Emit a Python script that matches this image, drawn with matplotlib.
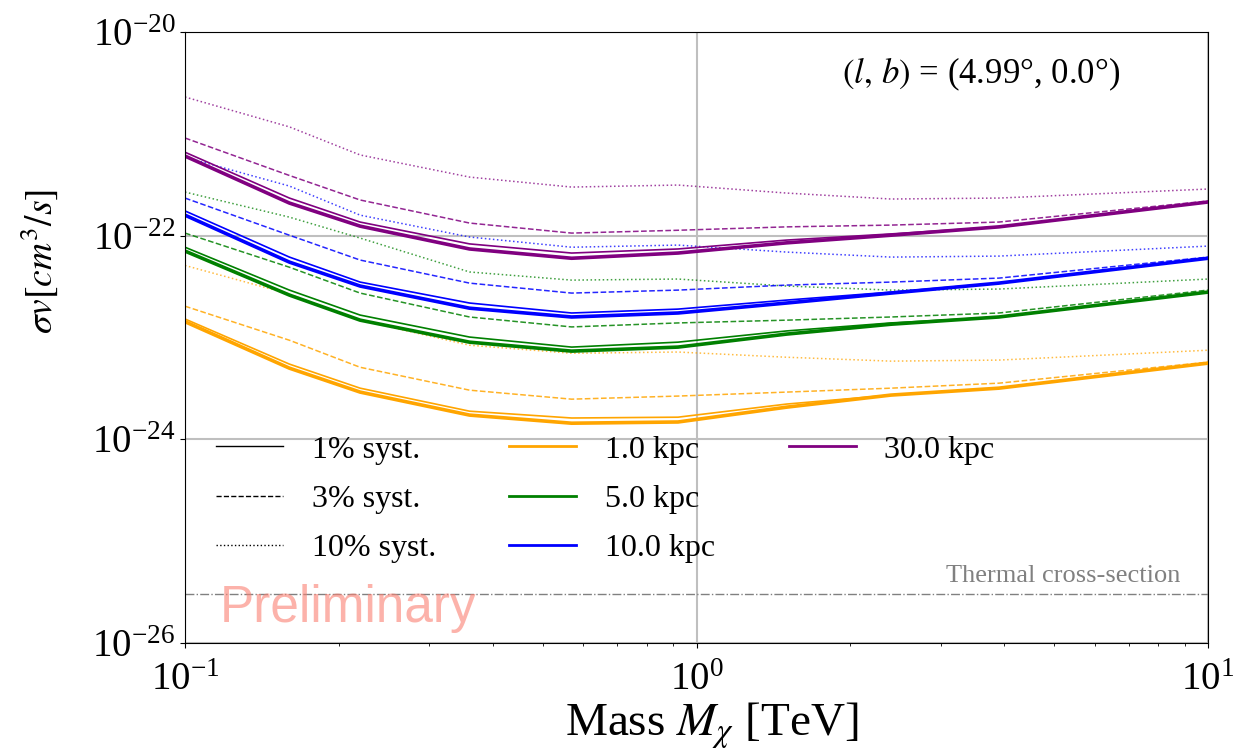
import matplotlib
matplotlib.use("Agg")
import matplotlib.pyplot as plt
from matplotlib.lines import Line2D
from matplotlib.ticker import NullLocator

plt.rcParams['font.family'] = ['Liberation Serif', 'DejaVu Serif']
plt.rcParams['mathtext.fontset'] = 'stix'

# dark matter mass [TeV]
mass = [0.1, 0.16, 0.22, 0.36, 0.57, 0.92, 1.5, 2.4, 3.9, 10]

# upper limits on <sigma v> [cm^3/s]; "stat" is the thick line, then 1%, 3%, 10% systematics
d1_stat = [1.43e-23, 5.0e-24, 2.91e-24, 1.73e-24, 1.44e-24, 1.48e-24, 2.07e-24, 2.72e-24, 3.18e-24, 5.6e-24]
d1_sys1 = [1.52e-23, 5.48e-24, 3.18e-24, 1.89e-24, 1.62e-24, 1.65e-24, 2.22e-24, 2.72e-24, 3.18e-24, 5.6e-24]
d1_sys3 = [2.03e-23, 9.4e-24, 5.1e-24, 3.04e-24, 2.48e-24, 2.66e-24, 2.91e-24, 3.18e-24, 3.56e-24, 5.73e-24]
d1_sys10 = [5.1e-23, 2.67e-23, 1.48e-23, 8.4e-24, 7.0e-24, 7.2e-24, 6.4e-24, 5.86e-24, 6.0e-24, 7.5e-24]

d5_stat = [7.06e-23, 2.61e-23, 1.48e-23, 9.0e-24, 7.35e-24, 8.05e-24, 1.08e-23, 1.35e-23, 1.59e-23, 2.79e-23]
d5_sys1 = [7.7e-23, 2.92e-23, 1.66e-23, 1.01e-23, 8.05e-24, 9.0e-24, 1.16e-23, 1.39e-23, 1.59e-23, 2.79e-23]
d5_sys3 = [1.06e-22, 4.9e-23, 2.73e-23, 1.59e-23, 1.27e-23, 1.39e-23, 1.48e-23, 1.59e-23, 1.74e-23, 2.92e-23]
d5_sys10 = [2.68e-22, 1.52e-22, 9.47e-23, 4.4e-23, 3.66e-23, 3.75e-23, 3.2e-23, 2.92e-23, 2.99e-23, 3.75e-23]

d10_stat = [1.59e-22, 5.5e-23, 3.2e-23, 1.94e-23, 1.59e-23, 1.74e-23, 2.18e-23, 2.73e-23, 3.42e-23, 6.0e-23]
d10_sys1 = [1.75e-22, 6.16e-23, 3.5e-23, 2.18e-23, 1.74e-23, 1.9e-23, 2.33e-23, 2.79e-23, 3.42e-23, 6.0e-23]
d10_sys3 = [2.34e-22, 1.01e-22, 5.76e-23, 3.42e-23, 2.73e-23, 2.92e-23, 3.27e-23, 3.5e-23, 3.83e-23, 6.16e-23]
d10_sys10 = [5.9e-22, 3.07e-22, 1.59e-22, 9.7e-23, 7.7e-23, 8.08e-23, 6.9e-23, 6.16e-23, 6.3e-23, 7.9e-23]

d30_stat = [6.05e-22, 2.09e-22, 1.24e-22, 7.4e-23, 6.0e-23, 6.75e-23, 8.5e-23, 1.01e-22, 1.22e-22, 2.14e-22]
d30_sys1 = [6.6e-22, 2.34e-22, 1.36e-22, 8.3e-23, 6.75e-23, 7.4e-23, 9.05e-23, 1.04e-22, 1.22e-22, 2.14e-22]
d30_sys3 = [9.1e-22, 3.9e-22, 2.24e-22, 1.33e-22, 1.06e-22, 1.13e-22, 1.22e-22, 1.27e-22, 1.36e-22, 2.19e-22]
d30_sys10 = [2.3e-21, 1.17e-21, 6.2e-22, 3.76e-22, 3.0e-22, 3.14e-22, 2.62e-22, 2.29e-22, 2.34e-22, 2.87e-22]

distances = ['1.0 kpc', '5.0 kpc', '10.0 kpc', '30.0 kpc']
colors = ['orange', 'green', 'blue', 'purple']
limits = [
    (d1_stat, d1_sys1, d1_sys3, d1_sys10),
    (d5_stat, d5_sys1, d5_sys3, d5_sys10),
    (d10_stat, d10_sys1, d10_sys3, d10_sys10),
    (d30_stat, d30_sys1, d30_sys3, d30_sys10),
]
syst_labels = ['1% syst.', '3% syst.', '10% syst.']
thermal_xs = 3e-26

fig = plt.figure(figsize=(12.39, 7.51), dpi=100)
ax = fig.add_axes([0.1493, 0.1438, 0.8257, 0.8136])

for col, (stat, s1, s3, s10) in zip(colors, limits):
    ax.plot(mass, stat, color=col, lw=2.6)
    ax.plot(mass, s1, color=col, lw=1.2)
    ax.plot(mass, s3, color=col, lw=1.1, ls='--', alpha=0.85)
    ax.plot(mass, s10, color=col, lw=1.1, ls=':', alpha=0.75)

ax.axhline(thermal_xs, color='gray', ls='-.', lw=1)
ax.text(0.973, 0.1, 'Thermal cross-section', transform=ax.transAxes,
        ha='right', va='baseline', color='gray', fontsize=19)
ax.text(0.034, 0.034, 'Preliminary', transform=ax.transAxes,
        family='Liberation Sans', fontsize=37, color='salmon', alpha=0.6,
        ha='left', va='baseline')
ax.text(0.778, 0.93, r'$(l,\, b)$ = (4.99°, 0.0°)', transform=ax.transAxes,
        ha='center', va='center', fontsize=25)

ax.set_xscale('log')
ax.set_yscale('log')
ax.set_xlim(0.1, 10)
ax.set_ylim(1e-26, 1e-20)
ax.set_yticks([1e-26, 1e-24, 1e-22, 1e-20])
ax.yaxis.set_minor_locator(NullLocator())
ax.grid(True, which='major', color='0.75', lw=1.5)
ax.tick_params(labelsize=28)
ax.tick_params(axis='x', pad=10)
ax.set_xlabel(r'Mass $M_\chi$ [TeV]', fontsize=34)
ax.set_ylabel(r'$\sigma v [cm^3/s]$', fontsize=27)
ax.yaxis.set_label_coords(-0.122, 0.624)
ax.xaxis.set_label_coords(0.515, -0.095)

handles = [Line2D([], [], color='black', lw=1, ls=s) for s in ['-', '--', ':']]
handles += [Line2D([], [], color=c, lw=2) for c in colors]
handles += [Line2D([], [], alpha=0), Line2D([], [], alpha=0)]
labels = syst_labels + distances + ['', '']
ax.legend(handles, labels, ncol=3, frameon=False, fontsize=23,
          loc='upper left', bbox_to_anchor=(0.03, 0.34), borderaxespad=0, borderpad=0,
          handlelength=2.1, handletextpad=0.9, columnspacing=2.3, labelspacing=0.62)

fig.savefig('out.png', dpi=100)
